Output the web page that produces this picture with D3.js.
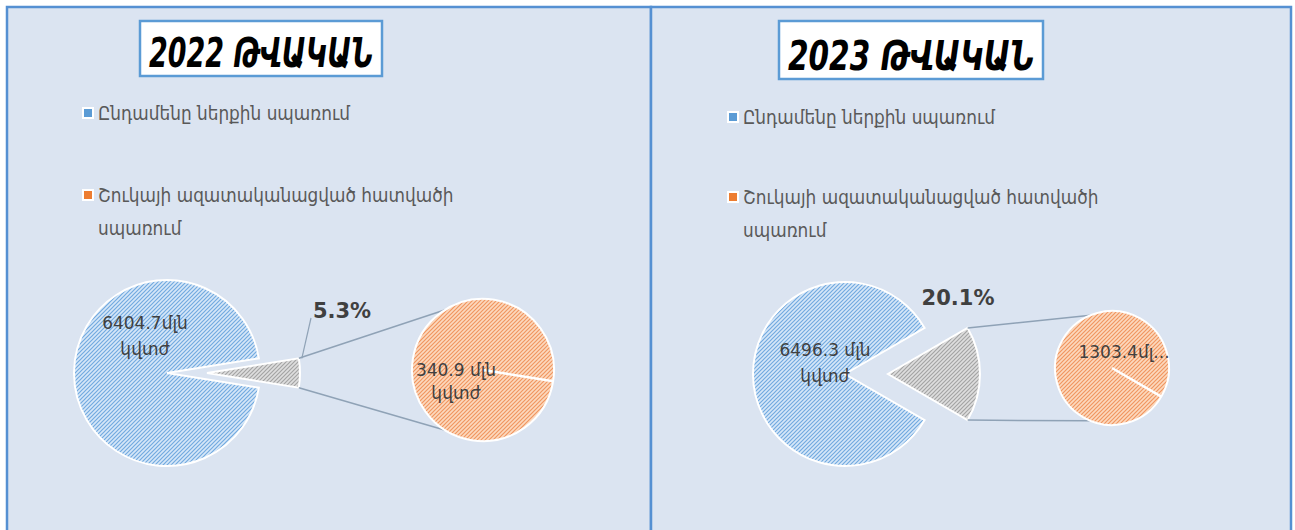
<!DOCTYPE html>
<html>
<head>
<meta charset="utf-8">
<script src="https://cdn.jsdelivr.net/npm/d3@7"></script>
<style>
  body { margin: 0; background: #fff; }
  svg { display: block; }
</style>
</head>
<body>
<svg id="chart"></svg>
<script>
var width = 1295;
var height = 530;

// data
var years = ["2022", "2023"];
var totalUse = [6404.7, 6496.3];       // mln kWh, main pie
var freeMarketUse = [340.9, 1303.4];   // mln kWh, split off slice
var sharePct = [5.3, 20.1];
var seriesNames = ["Ընդամենը ներքին սպառում", "Շուկայի ազատականացված հատվածի սպառում"];
var legendLines = [["Ընդամենը ներքին սպառում"], ["Շուկայի ազատականացված հատվածի", "սպառում"]];
var mainLabels = [["6404.7մլն", "կվտժ"], ["6496.3 մլն", "կվտժ"]];
var subLabels = [["340.9 մլն", "կվտժ"], ["1303.4մլ..."]];

// layout of the two panels
var panels = [
  { x0: 7, x1: 651, box: [140, 21, 242, 55], legX: 82, legY: [113, 195], cx: 167, cy: 373, r: 93, explode: 40,
    sx: 483, sy: 370, sr: 71, connAngle: 122, mainLab: [-22, -50], subLab: [-27, 0], pct: [342, 318], leader: true },
  { x0: 651, x1: 1291, box: [779, 21, 264, 58], legX: 727, legY: [117, 197], cx: 845, cy: 374, r: 92, explode: 43,
    sx: 1112, sy: 368, sr: 57, connAngle: 112, mainLab: [-20, -24], subLab: [12, -16], pct: [958, 305], leader: false }
];

var svg = d3.select("#chart").attr("width", width).attr("height", height);
var defs = svg.append("defs");

function hatch(id, bg, fg) {
  var p = defs.append("pattern").attr("id", id)
    .attr("patternUnits", "userSpaceOnUse").attr("width", 4).attr("height", 4);
  p.append("rect").attr("width", 4).attr("height", 4).attr("fill", bg);
  p.append("path").attr("d", "M-1,1 l2,-2 M0,4 l4,-4 M3,5 l2,-2")
    .attr("stroke", fg).attr("stroke-width", 1.2);
}
hatch("hBlue", "#d6e7f8", "#72aae0");
hatch("hOrange", "#fcd9be", "#f19660");
hatch("hGray", "#dedede", "#a4a4a4");

var fills = ["url(#hBlue)", "url(#hGray)"];
var legendColors = ["#5b9bd5", "#ed7d31"];
var textFont = "'DejaVu Sans Condensed', 'DejaVu Sans', sans-serif";
var labelFont = "'DejaVu Sans', sans-serif";

panels.forEach(function(p, i) {
  var g = svg.append("g");

  g.append("rect")
    .attr("x", p.x0).attr("y", 7)
    .attr("width", p.x1 - p.x0).attr("height", 540)
    .attr("fill", "#dbe4f1")
    .attr("stroke", "#5590d2").attr("stroke-width", 2.5);

  // title box
  g.append("rect")
    .attr("x", p.box[0]).attr("y", p.box[1])
    .attr("width", p.box[2]).attr("height", p.box[3])
    .attr("fill", "#fff").attr("stroke", "#5b9bd5").attr("stroke-width", 2.5);
  g.append("text")
    .attr("x", p.box[0] + p.box[2] / 2).attr("y", p.box[1] + p.box[3] - 9)
    .attr("text-anchor", "middle")
    .attr("font-family", textFont)
    .attr("font-weight", "bold").attr("font-style", "italic")
    .attr("font-size", 41)
    .attr("textLength", p.box[2] - 18).attr("lengthAdjust", "spacingAndGlyphs")
    .attr("fill", "#000")
    .text(years[i] + " ԹՎԱԿԱՆ");

  // legend
  seriesNames.forEach(function(name, k) {
    var y = p.legY[k];
    g.append("rect").attr("x", p.legX).attr("y", y - 6).attr("width", 12).attr("height", 12).attr("fill", "#fff");
    g.append("rect").attr("x", p.legX + 2).attr("y", y - 4).attr("width", 8).attr("height", 8)
      .attr("fill", legendColors[k]);
    legendLines[k].forEach(function(line, j) {
      g.append("text")
        .attr("x", p.legX + 16).attr("y", y + 7 + j * 33)
        .attr("font-family", textFont).attr("font-size", 18.8)
        .attr("fill", "#595959")
        .text(line);
    });
  });

  // main pie: total vs free-market part
  var vals = [totalUse[i], freeMarketUse[i]];
  var sum = d3.sum(vals);
  var gAng = 2 * Math.PI * vals[1] / sum;
  var start = Math.PI / 2 + gAng / 2;
  var pie = d3.pie().sort(null).startAngle(start).endAngle(start + 2 * Math.PI);
  var arc = d3.arc().innerRadius(0).outerRadius(p.r);
  var arcs = pie(vals);

  var mainG = g.append("g").attr("transform", "translate(" + p.cx + "," + p.cy + ")");
  mainG.selectAll("path")
    .data(arcs)
    .enter()
    .append("path")
    .attr("d", arc)
    .attr("transform", function(d, k) { return k == 1 ? "translate(" + p.explode + ",0)" : null; })
    .attr("fill", function(d, k) { return fills[k]; })
    .attr("stroke", "#fff").attr("stroke-width", 2);

  // connector lines from the slice corners to the second pie
  var half = gAng / 2;
  var corners = [
    [p.cx + p.explode + p.r * Math.cos(half), p.cy - p.r * Math.sin(half)],
    [p.cx + p.explode + p.r * Math.cos(half), p.cy + p.r * Math.sin(half)]
  ];
  var a = p.connAngle * Math.PI / 180;
  var ends = [
    [p.sx + p.sr * Math.cos(a), p.sy - p.sr * Math.sin(a)],
    [p.sx + p.sr * Math.cos(a), p.sy + p.sr * Math.sin(a)]
  ];
  corners.forEach(function(c, k) {
    g.append("line")
      .attr("x1", c[0]).attr("y1", c[1]).attr("x2", ends[k][0]).attr("y2", ends[k][1])
      .attr("stroke", "#8fa2b6").attr("stroke-width", 1.5);
  });

  // second pie: the free-market part alone
  var subPie = d3.pie().sort(null).startAngle(Math.PI / 2 + half).endAngle(Math.PI / 2 + half + 2 * Math.PI);
  var subArc = d3.arc().innerRadius(0).outerRadius(p.sr);
  var subG = g.append("g").attr("transform", "translate(" + p.sx + "," + p.sy + ")");
  subG.selectAll("path")
    .data(subPie([freeMarketUse[i]]))
    .enter()
    .append("path")
    .attr("d", subArc)
    .attr("fill", "url(#hOrange)")
    .attr("stroke", "#fff").attr("stroke-width", 2);
  var sa = Math.PI / 2 + half;
  subG.append("line")
    .attr("x1", 0).attr("y1", 0)
    .attr("x2", p.sr * Math.sin(sa)).attr("y2", -p.sr * Math.cos(sa))
    .attr("stroke", "#fff").attr("stroke-width", 2.5);

  // value labels
  mainLabels[i].forEach(function(t, j) {
    mainG.append("text")
      .attr("x", p.mainLab[0]).attr("y", p.mainLab[1] + 6 + j * 26)
      .attr("text-anchor", "middle")
      .attr("font-family", labelFont).attr("font-size", 17)
      .attr("fill", "#404040")
      .text(t);
  });
  subLabels[i].forEach(function(t, j) {
    subG.append("text")
      .attr("x", p.subLab[0]).attr("y", p.subLab[1] + 6 + j * 23)
      .attr("text-anchor", "middle")
      .attr("font-family", labelFont).attr("font-size", 17)
      .attr("fill", "#404040")
      .text(t);
  });

  // share label
  g.append("text")
    .attr("x", p.pct[0]).attr("y", p.pct[1])
    .attr("text-anchor", "middle")
    .attr("font-family", "'DejaVu Sans', sans-serif").attr("font-weight", "bold")
    .attr("font-size", 21)
    .attr("fill", "#404040")
    .text(sharePct[i] + "%");
  if (p.leader) {
    g.append("line")
      .attr("x1", p.pct[0] - 31).attr("y1", p.pct[1])
      .attr("x2", corners[0][0] + 3).attr("y2", corners[0][1])
      .attr("stroke", "#8fa2b6").attr("stroke-width", 1.2);
  }
});
</script>
</body>
</html>
